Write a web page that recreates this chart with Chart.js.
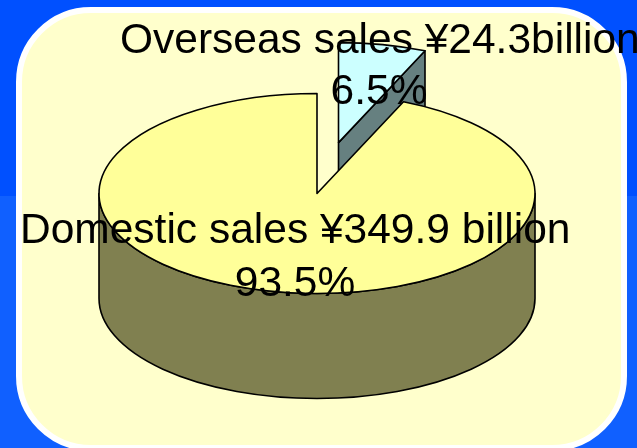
<!DOCTYPE html>
<html>
<head>
<meta charset="utf-8">
<title>Sales breakdown</title>
<script src="https://cdn.jsdelivr.net/npm/chart.js@4"></script>
<style>
  html, body { margin: 0; padding: 0; overflow: hidden; }
  body {
    width: 637px;
    height: 448px;
    position: relative;
    background: linear-gradient(to bottom, #0050ff 0, #0050ff 196px, #1060ff 196px, #1060ff 448px);
  }
  #card {
    position: absolute;
    left: 16px;
    top: 7px;
    width: 599px;
    height: 432px;
    background: #ffffcc;
    border: 6px solid #fff;
    border-radius: 75px;
  }
  #sales-chart { position: absolute; left: 0; top: 0; }
</style>
</head>
<body>
<div id="card"></div>
<canvas id="sales-chart" width="637" height="448"></canvas>

<script>
  // values in billion yen
  const categories = ['Overseas sales', 'Domestic sales'];
  const salesValues = [24.3, 349.9];
  const topColors = ['#ccffff', '#ffff99'];
  const wallColors = ['#668080', '#808050'];
  const labelLines = [
    ['Overseas sales ¥24.3billion', '6.5%'],
    ['Domestic sales ¥349.9 billion', '93.5%']
  ];

  const RADIUS = 218;      // horizontal radius of the pie
  const SQUASH = 100 / 218; // tilt of the pie
  const DEPTH = 105;       // height of the side wall
  const EXPLODE_X = 21.5;  // pulled out slice
  const EXPLODE_Y = -111;
  const OUTLINE = 1.6;

  // pie is circular in chart space, this flattens it on draw
  function project(arc, a, r) {
    return {
      x: arc.x + Math.cos(a) * r,
      y: arc.cy + (arc.y - arc.cy + Math.sin(a) * r) * SQUASH
    };
  }

  function arcInfo(el, cy) {
    const p = el.getProps(['x', 'y', 'startAngle', 'endAngle', 'outerRadius'], true);
    return { ...p, cy };
  }

  function ellipsePath(ctx, arc, from, to, dy, ccw) {
    const c = project(arc, 0, 0);
    ctx.ellipse(c.x, c.y + dy, arc.outerRadius, arc.outerRadius * SQUASH, 0, from, to, ccw);
  }

  function drawWalls(ctx, arc, i) {
    ctx.fillStyle = wallColors[i];
    ctx.strokeStyle = '#000';
    ctx.lineWidth = OUTLINE;
    ctx.lineJoin = 'round';

    // cut face that looks towards the viewer
    if (Math.cos(arc.endAngle) > 0.01) {
      const c = project(arc, 0, 0);
      const e = project(arc, arc.endAngle, arc.outerRadius);
      ctx.beginPath();
      ctx.moveTo(c.x, c.y);
      ctx.lineTo(e.x, e.y);
      ctx.lineTo(e.x, e.y + DEPTH);
      ctx.lineTo(c.x, c.y + DEPTH);
      ctx.closePath();
      ctx.fill();
      ctx.stroke();
    }

    // front part of the rim
    const lo = Math.max(arc.startAngle, 0);
    const hi = Math.min(arc.endAngle, Math.PI);
    if (hi > lo) {
      ctx.beginPath();
      ellipsePath(ctx, arc, lo, hi, 0, false);
      ellipsePath(ctx, arc, hi, lo, DEPTH, true);
      ctx.closePath();
      ctx.fill();
      ctx.stroke();
    }
  }

  const tiltPlugin = {
    id: 'tilt',
    afterDatasetsUpdate(chart) {
      const pulled = chart.getDatasetMeta(0).data[0];
      pulled.x += EXPLODE_X;
      pulled.y += EXPLODE_Y;
    },
    beforeDatasetsDraw(chart) {
      const ctx = chart.ctx;
      const cy = (chart.chartArea.top + chart.chartArea.bottom) / 2;
      chart.getDatasetMeta(0).data.forEach((el, i) => drawWalls(ctx, arcInfo(el, cy), i));
      ctx.save();
      ctx.translate(0, cy);
      ctx.scale(1, SQUASH);
      ctx.translate(0, -cy);
    },
    afterDatasetsDraw(chart) {
      const ctx = chart.ctx;
      ctx.restore();
      const cy = (chart.chartArea.top + chart.chartArea.bottom) / 2;
      ctx.strokeStyle = '#000';
      ctx.lineWidth = OUTLINE;
      ctx.lineJoin = 'round';
      chart.getDatasetMeta(0).data.forEach(el => {
        const arc = arcInfo(el, cy);
        const c = project(arc, 0, 0);
        ctx.beginPath();
        ctx.moveTo(c.x, c.y);
        ellipsePath(ctx, arc, arc.startAngle, arc.endAngle, 0, false);
        ctx.closePath();
        ctx.stroke();
      });
    },
    afterDraw(chart) {
      const ctx = chart.ctx;
      ctx.save();
      ctx.fillStyle = '#000';
      ctx.font = '42.5px "Liberation Sans", Arial, sans-serif';
      ctx.textBaseline = 'alphabetic';
      ctx.textAlign = 'left';
      ctx.fillText(labelLines[0][0], 120, 53);
      ctx.fillText(labelLines[1][0], 20, 243);
      ctx.textAlign = 'center';
      ctx.fillText(labelLines[0][1], 379, 104);
      ctx.fillText(labelLines[1][1], 295, 296);
      ctx.restore();
    }
  };

  new Chart(document.getElementById('sales-chart'), {
    type: 'pie',
    data: {
      labels: categories,
      datasets: [{
        data: salesValues,
        backgroundColor: topColors,
        borderWidth: 0,
        clip: false
      }]
    },
    options: {
      responsive: false,
      animation: false,
      radius: RADIUS,
      rotation: 0,
      layout: { padding: { right: 3, bottom: 61 } },
      plugins: {
        legend: { display: false },
        tooltip: { enabled: false }
      }
    },
    plugins: [tiltPlugin]
  });
</script>
</body>
</html>
